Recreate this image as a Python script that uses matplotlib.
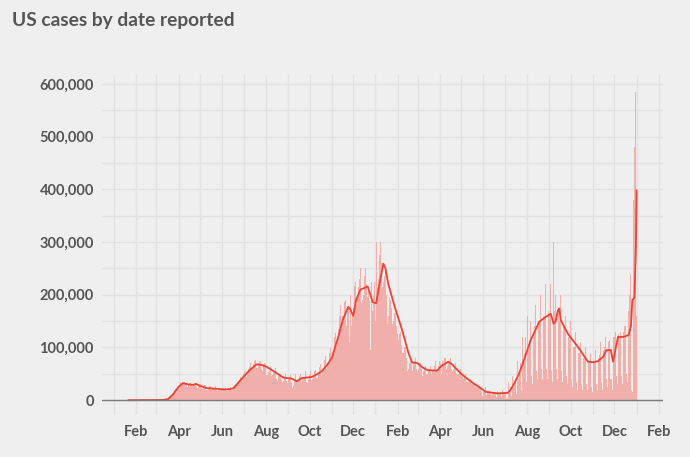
import numpy as np
import pandas as pd
import matplotlib
matplotlib.use("Agg")
import matplotlib.pyplot as plt
import matplotlib.dates as mdates
from matplotlib.ticker import FuncFormatter, MultipleLocator

# daily cases reported (thousands), one row per week starting Monday 2020-01-20
start_day = "2020-01-20"
daily_cases = [
    0, 0, 0, 0, 0, 0, 0,
    0, 0, 0, 0, 0, 0, 0,
    0, 0, 0, 0, 0, 0, 0,
    0, 0, 0, 0, 0, 0, 0,
    0, 0, 0, 0, 0, 0, 0,
    0, 0, 0, 0, 0, 0, 0,
    0.02, 0.03, 0.03, 0.05, 0.06, 0.1, 0.1,
    0.2, 0.3, 0.4, 0.5, 0.6, 0.7, 0.8,
    1.5, 1.9, 3.0, 4.5, 6.0, 7.0, 8.5,
    11, 10, 12, 17, 19, 20, 19,
    22, 26, 26, 29, 32, 34, 26,
    30, 31, 32, 35, 33, 31, 28,
    25, 28, 30, 32, 31, 33, 27,
    27, 27, 28, 31, 34, 30, 27,
    23, 25, 27, 30, 31, 28, 24,
    22, 23, 24, 28, 28, 25, 20,
    19, 22, 21, 27, 26, 24, 19,
    21, 21, 23, 24, 26, 23, 20,
    18, 19, 20, 22, 23, 24, 20,
    21, 21, 20, 22, 24, 23, 19,
    17, 20, 21, 22, 25, 26, 20,
    20, 23, 26, 28, 31, 32, 27,
    30, 35, 37, 39, 44, 43, 40,
    41, 46, 50, 55, 52, 47, 44,
    50, 60, 60, 63, 70, 66, 60,
    60, 65, 68, 75, 77, 67, 62,
    62, 64, 70, 72, 75, 67, 59,
    56, 64, 68, 70, 69, 57, 48,
    48, 52, 54, 56, 63, 57, 45,
    47, 51, 53, 55, 62, 55, 41,
    36, 43, 46, 45, 49, 47, 38,
    35, 37, 40, 44, 49, 43, 36,
    33, 41, 40, 44, 48, 42, 32,
    24, 27, 34, 36, 49, 43, 34,
    37, 38, 39, 45, 49, 43, 34,
    42, 39, 38, 44, 55, 46, 34,
    33, 40, 40, 48, 55, 48, 37,
    41, 44, 50, 56, 57, 48, 42,
    43, 52, 59, 63, 69, 55, 46,
    60, 60, 62, 76, 83, 78, 60,
    67, 73, 78, 90, 99, 86, 76,
    84, 91, 104, 120, 128, 126, 103,
    120, 135, 142, 160, 180, 160, 135,
    160, 160, 171, 187, 190, 180, 140,
    170, 175, 181, 110, 200, 155, 140,
    160, 175, 200, 216, 225, 215, 180,
    195, 215, 220, 230, 250, 225, 185,
    190, 200, 245, 235, 250, 220, 185,
    195, 205, 230, 190, 95, 225, 150,
    170, 200, 230, 225, 150, 300, 210,
    215, 230, 255, 275, 300, 260, 215,
    215, 225, 230, 235, 245, 200, 175,
    145, 160, 185, 195, 190, 175, 130,
    145, 150, 155, 165, 165, 140, 110,
    125, 115, 120, 125, 130, 105, 80,
    90, 90, 95, 100, 100, 80, 60,
    55, 60, 70, 70, 75, 70, 55,
    55, 70, 75, 75, 80, 60, 50,
    55, 60, 65, 70, 70, 60, 40,
    45, 55, 60, 60, 65, 50, 35,
    50, 55, 60, 60, 65, 50, 35,
    55, 55, 60, 65, 75, 55, 40,
    60, 65, 70, 75, 70, 50, 40,
    75, 70, 75, 80, 80, 60, 45,
    65, 70, 75, 80, 80, 60, 40,
    55, 60, 65, 70, 70, 50, 35,
    50, 50, 55, 55, 60, 45, 30,
    45, 40, 45, 50, 50, 35, 25,
    35, 35, 40, 40, 40, 30, 20,
    30, 30, 30, 35, 30, 25, 15,
    25, 25, 25, 25, 25, 15, 10,
    8, 15, 20, 20, 25, 10, 8,
    15, 15, 15, 18, 15, 10, 5,
    15, 13, 12, 15, 15, 7, 4,
    18, 13, 14, 15, 14, 7, 4,
    20, 14, 15, 17, 16, 5, 3,
    3, 35, 20, 20, 25, 8, 5,
    45, 25, 30, 33, 40, 12, 8,
    75, 40, 50, 55, 70, 20, 10,
    120, 70, 90, 95, 120, 35, 20,
    160, 95, 115, 130, 150, 45, 30,
    180, 120, 140, 150, 180, 55, 40,
    200, 150, 150, 160, 200, 60, 40,
    240, 160, 160, 170, 220, 60, 40,
    250, 170, 160, 165, 220, 55, 35,
    45, 300, 170, 170, 200, 60, 40,
    280, 170, 150, 160, 200, 55, 35,
    240, 140, 140, 140, 160, 45, 30,
    210, 120, 120, 120, 150, 40, 25,
    180, 100, 100, 100, 130, 35, 20,
    130, 90, 90, 90, 110, 30, 20,
    140, 80, 80, 80, 100, 30, 20,
    130, 70, 75, 80, 90, 25, 15,
    130, 70, 75, 85, 95, 30, 20,
    120, 80, 85, 90, 110, 35, 20,
    155, 95, 100, 105, 120, 40, 25,
    170, 110, 115, 40, 40, 40, 20,
    200, 120, 120, 130, 145, 45, 30,
    220, 125, 120, 130, 150, 45, 30,
    210, 130, 140, 140, 190, 50, 35,
    260, 170, 200, 240, 280, 20, 15,
    500, 380, 480, 585, 545, 160,
]

# 7-day average (thousands)
avg_dates = [
    "2020-01-22", "2020-03-10", "2020-03-17", "2020-03-24", "2020-03-31",
    "2020-04-07", "2020-04-14", "2020-04-21", "2020-04-25", "2020-05-01",
    "2020-05-10", "2020-05-20", "2020-06-03", "2020-06-12", "2020-06-17",
    "2020-06-25", "2020-07-03", "2020-07-10", "2020-07-19", "2020-07-25",
    "2020-08-01", "2020-08-13", "2020-08-25", "2020-09-06", "2020-09-13",
    "2020-09-20", "2020-10-04", "2020-10-11", "2020-10-18", "2020-10-25",
    "2020-11-01", "2020-11-10", "2020-11-17", "2020-11-24", "2020-11-27",
    "2020-12-01", "2020-12-05", "2020-12-11", "2020-12-15", "2020-12-21",
    "2020-12-25", "2020-12-28", "2021-01-02", "2021-01-08", "2021-01-12",
    "2021-01-15", "2021-01-19", "2021-01-28", "2021-02-08", "2021-02-16",
    "2021-02-21", "2021-03-01", "2021-03-08", "2021-03-15", "2021-03-28",
    "2021-04-04", "2021-04-13", "2021-04-18", "2021-04-30", "2021-05-10",
    "2021-05-18", "2021-05-26", "2021-06-04", "2021-06-12", "2021-06-21",
    "2021-07-05", "2021-07-09", "2021-07-14", "2021-07-20", "2021-07-26",
    "2021-08-06", "2021-08-18", "2021-08-27", "2021-09-03", "2021-09-07",
    "2021-09-10", "2021-09-13", "2021-09-15", "2021-09-17", "2021-09-27",
    "2021-10-11", "2021-10-25", "2021-11-01", "2021-11-08", "2021-11-15",
    "2021-11-20", "2021-11-26", "2021-11-29", "2021-12-03", "2021-12-06",
    "2021-12-14", "2021-12-21", "2021-12-24", "2021-12-26", "2021-12-29",
    "2021-12-31", "2022-01-01",
]
avg_values = [
    0, 0.5, 2, 11, 24,
    32.5, 30, 29, 31, 27,
    23, 22, 20.5, 21, 23,
    36, 48, 58, 68, 67,
    64, 54, 43, 41, 36,
    42, 44, 49, 55, 66,
    80, 120, 155, 177, 172,
    160, 190, 210, 212, 216,
    200, 186, 184, 230, 259,
    250, 220, 177, 130, 90,
    72, 70, 62, 57, 56,
    66, 73, 68, 51, 40,
    32, 25, 16, 14.5, 13,
    14, 20, 32, 48, 70,
    114, 149, 158, 164, 145,
    150, 170, 174, 152, 126,
    101, 73, 72, 74, 82,
    95, 95, 73, 100, 120,
    120, 124, 140, 190, 195,
    290, 398,
]

title = "US cases by date reported"

bg = "#efefef"
text_col = "#555555"
plt.rcParams["font.family"] = ["Lato", "DejaVu Sans"]

fig = plt.figure(figsize=(6.9, 4.57), dpi=100, facecolor=bg)
ax = fig.add_axes([0.148, 0.092, 0.813, 0.744], facecolor=bg)

days = pd.date_range(start_day, periods=len(daily_cases), freq="D")
ax.bar(days, np.array(daily_cases) * 1000, width=1.0, color="#f0afab",
       linewidth=0, zorder=2)
ax.plot(pd.to_datetime(avg_dates), np.array(avg_values) * 1000,
        color="#ec4334", lw=1.3, zorder=3)
ax.axhline(0, color="#7a7a7a", lw=1.0, zorder=4)

ax.set_xlim(pd.Timestamp("2019-12-16"), pd.Timestamp("2022-02-07"))
ax.set_ylim(-28000, 617000)

ax.xaxis.set_major_locator(mdates.MonthLocator(bymonth=[2, 4, 6, 8, 10, 12]))
ax.xaxis.set_minor_locator(mdates.MonthLocator())
ax.xaxis.set_major_formatter(mdates.DateFormatter("%b"))
ax.yaxis.set_major_locator(MultipleLocator(100000))
ax.yaxis.set_minor_locator(MultipleLocator(50000))
ax.yaxis.set_major_formatter(FuncFormatter(lambda v, p: f"{int(v):,}"))

ax.grid(True, which="both", color="#e2e2e2", lw=1.0, zorder=0)
ax.set_axisbelow(True)
for s in ax.spines.values():
    s.set_visible(False)
ax.tick_params(which="both", length=0)
ax.tick_params(axis="y", pad=6, labelsize=10.5, labelcolor=text_col)
ax.tick_params(axis="x", pad=7, labelsize=10.5, labelcolor=text_col)
for lab in ax.get_xticklabels() + ax.get_yticklabels():
    lab.set_fontweight("bold")

fig.text(0.017, 0.943, title, fontsize=13.8, fontweight="bold",
         color=text_col, ha="left", va="baseline")

fig.savefig("out.png", dpi=100, facecolor=bg)
